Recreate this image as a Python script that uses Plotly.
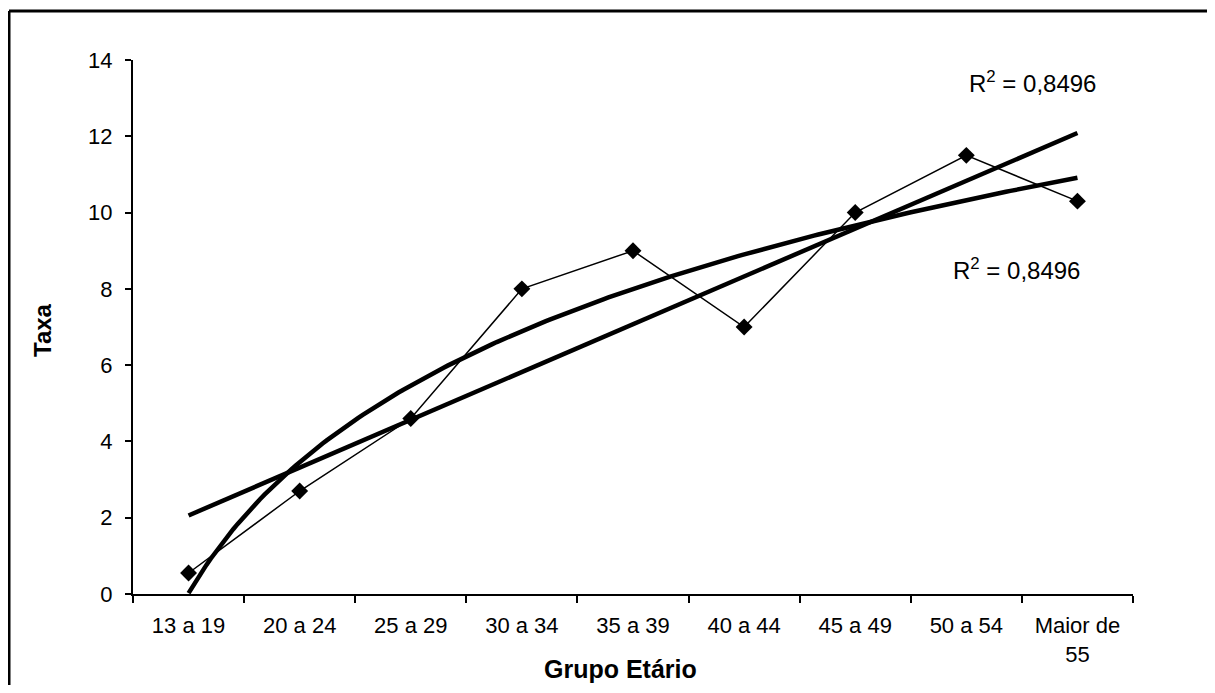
import numpy as np
import plotly.graph_objects as go

categories = ["13 a 19", "20 a 24", "25 a 29", "30 a 34", "35 a 39",
              "40 a 44", "45 a 49", "50 a 54", "Maior de<br>55"]
taxa = [0.55, 2.7, 4.6, 8.0, 9.0, 7.0, 10.0, 11.5, 10.3]
y_ticks = [0, 2, 4, 6, 8, 10, 12, 14]
r2_labels = ["R<sup>2</sup> = 0,8496", "R<sup>2</sup> = 0,8496"]

x = np.arange(1, len(taxa) + 1)
y = np.array(taxa)

# Linear trend (least squares from data)
lin_coef = np.polyfit(x, y, 1)
x_lin = np.array([x[0], x[-1]], dtype=float)
y_lin = np.polyval(lin_coef, x_lin)

# Logarithmic trend (least squares on ln x)
log_coef = np.polyfit(np.log(x), y, 1)
x_log = np.linspace(x[0], x[-1], 200)
y_log = np.polyval(log_coef, np.log(x_log))

fig = go.Figure()
fig.add_trace(go.Scatter(x=x_log, y=y_log, mode="lines",
                         line=dict(color="black", width=4.5), showlegend=False, hoverinfo="skip"))
fig.add_trace(go.Scatter(x=x_lin, y=y_lin, mode="lines",
                         line=dict(color="black", width=4.5), showlegend=False, hoverinfo="skip"))
fig.add_trace(go.Scatter(x=x, y=y, mode="lines+markers",
                         line=dict(color="black", width=1.5),
                         marker=dict(symbol="diamond", size=13, color="black"),
                         showlegend=False))

font_fam = "Liberation Sans, Arial, sans-serif"

# page is offset by the 8px body margin, so size/margins compensate
L, T = 125, 52
PW, PH = 1000, 534
W, H = 1199, 677

def px(page_x):
    return (page_x - 133) / PW

def py(page_y):
    return (594 - page_y) / PH

fig.update_layout(
    width=W, height=H,
    margin=dict(l=L, r=W - L - PW, t=T, b=H - T - PH, pad=0),
    paper_bgcolor="white", plot_bgcolor="white",
    font=dict(family=font_fam, size=22, color="black"),
    xaxis=dict(range=[0.5, 9.5], tickvals=list(x), ticktext=categories,
               ticks="", showgrid=False, zeroline=False,
               showline=True, linecolor="black", linewidth=2,
               tickfont=dict(size=22), ticklabelstandoff=11,
               minor=dict(tickvals=[i + 0.5 for i in range(0, 10)], ticks="outside",
                          ticklen=7, tickwidth=2, tickcolor="black", showgrid=False)),
    yaxis=dict(range=[0, 14], tickvals=y_ticks, ticks="outside", ticklen=6,
               tickwidth=2, tickcolor="black", showgrid=False, zeroline=False,
               showline=True, linecolor="black", linewidth=2,
               tickfont=dict(size=22), ticklabelstandoff=8),
    shapes=[
        dict(type="line", xref="paper", yref="paper",
             x0=px(9), x1=px(1207), y0=py(11), y1=py(11),
             line=dict(color="black", width=3)),
        dict(type="line", xref="paper", yref="paper",
             x0=px(9), x1=px(9), y0=py(11), y1=py(685),
             line=dict(color="black", width=3)),
    ],
    annotations=[
        dict(text="<b>Taxa</b>", xref="paper", yref="paper",
             x=px(42), y=py(330), textangle=-90, showarrow=False,
             font=dict(size=24), xanchor="center", yanchor="middle"),
        dict(text="<b>Grupo Etário</b>", xref="paper", yref="paper",
             x=px(620), y=py(669), showarrow=False,
             font=dict(size=25), xanchor="center", yanchor="middle"),
        dict(text=r2_labels[0], xref="paper", yref="paper",
             x=px(1032), y=py(82), showarrow=False,
             font=dict(size=24), xanchor="center", yanchor="middle"),
        dict(text=r2_labels[1], xref="paper", yref="paper",
             x=px(1016), y=py(269), showarrow=False,
             font=dict(size=24), xanchor="center", yanchor="middle"),
    ],
)

fig.write_html("out.html")
